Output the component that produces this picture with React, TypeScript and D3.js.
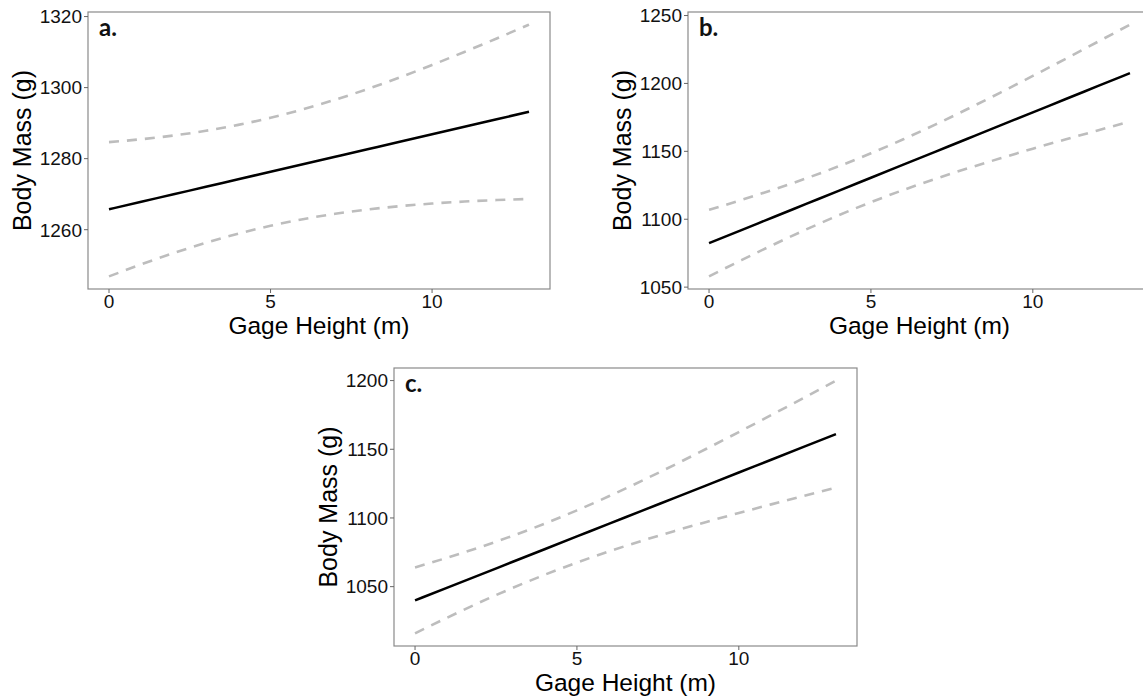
import React from "react";
import * as d3 from "d3";

// ---- Data ----
const gageHeight = [0, 1, 2, 3, 4, 5, 6, 7, 8, 9, 10, 11, 12, 13];

const fitA = [1265.75, 1267.86, 1269.97, 1272.08, 1274.2, 1276.31, 1278.42, 1280.53, 1282.64, 1284.75, 1286.87, 1288.98, 1291.09, 1293.2];
const upperA = [1284.65, 1285.47, 1286.52, 1287.85, 1289.51, 1291.51, 1293.88, 1296.59, 1299.6, 1302.88, 1306.38, 1310.04, 1313.83, 1317.74];
const lowerA = [1246.85, 1250.25, 1253.42, 1256.31, 1258.89, 1261.11, 1262.96, 1264.47, 1265.68, 1266.62, 1267.36, 1267.92, 1268.35, 1268.66];

const fitB = [1082.4, 1092.03, 1101.66, 1111.29, 1120.92, 1130.56, 1140.19, 1149.82, 1159.45, 1169.08, 1178.71, 1188.34, 1197.97, 1207.6];
const upperB = [1106.9, 1114.19, 1121.89, 1130.1, 1138.96, 1148.56, 1158.87, 1169.85, 1181.36, 1193.28, 1205.51, 1217.96, 1230.58, 1243.33];
const lowerB = [1057.9, 1069.87, 1081.43, 1092.48, 1102.88, 1112.56, 1121.51, 1129.79, 1137.54, 1144.88, 1151.91, 1158.72, 1165.36, 1171.87];

const fitC = [1040.0, 1049.31, 1058.62, 1067.92, 1077.23, 1086.54, 1095.85, 1105.15, 1114.46, 1123.77, 1133.08, 1142.38, 1151.69, 1161.0];
const upperC = [1064.0, 1071.11, 1078.7, 1086.91, 1095.84, 1105.54, 1115.96, 1126.99, 1138.51, 1150.39, 1162.53, 1174.87, 1187.36, 1199.96];
const lowerC = [1016.0, 1027.51, 1038.54, 1048.93, 1058.62, 1067.54, 1075.74, 1083.31, 1090.41, 1097.15, 1103.63, 1109.89, 1116.02, 1122.04];

const xTicks = [0, 5, 10];
const yTicksA = [1260, 1280, 1300, 1320];
const yTicksB = [1050, 1100, 1150, 1200, 1250];
const yTicksC = [1050, 1100, 1150, 1200];

const panelLabels = ["a.", "b.", "c."];
const xTitle = "Gage Height (m)";
const yTitle = "Body Mass (g)";

// ---- Layout ----
const layout = [
  { left: 88, top: 12, width: 462, height: 277 },
  { left: 688, top: 12, width: 463, height: 277 },
  { left: 394, top: 368, width: 463, height: 278 },
];

const panels = [
  { fit: fitA, upper: upperA, lower: lowerA, yTicks: yTicksA },
  { fit: fitB, upper: upperB, lower: lowerB, yTicks: yTicksB },
  { fit: fitC, upper: upperC, lower: lowerC, yTicks: yTicksC },
];

const tickFont = "'Liberation Sans', Arial, sans-serif";

function expand(ext: [number, number], f = 0.05): [number, number] {
  const r = ext[1] - ext[0];
  return [ext[0] - r * f, ext[1] + r * f];
}

function Panel({ idx }: { idx: number }) {
  const p = panels[idx];
  const L = layout[idx];
  const x = d3
    .scaleLinear()
    .domain(expand(d3.extent(gageHeight) as [number, number]))
    .range([L.left, L.left + L.width]);
  const allY = [...p.upper, ...p.lower, ...p.fit];
  const y = d3
    .scaleLinear()
    .domain(expand(d3.extent(allY) as [number, number]))
    .range([L.top + L.height, L.top]);

  const mk = (vals: number[]) =>
    d3
      .line<number>()
      .x((_, i) => x(gageHeight[i]))
      .y((v) => y(v))
      .curve(d3.curveMonotoneX)(vals) || "";

  const bottom = L.top + L.height;
  return (
    <g>
      <path d={mk(p.upper)} fill="none" stroke="#bdbdbd" strokeWidth={2.6} strokeDasharray="10 8" />
      <path d={mk(p.lower)} fill="none" stroke="#bdbdbd" strokeWidth={2.6} strokeDasharray="10 8" />
      <path d={mk(p.fit)} fill="none" stroke="#000" strokeWidth={2.5} />
      <rect x={L.left} y={L.top} width={L.width} height={L.height} fill="none" stroke="#8a8a8a" strokeWidth={1.2} />
      {xTicks.map((t) => (
        <g key={"x" + t}>
          <line x1={x(t)} x2={x(t)} y1={bottom} y2={bottom + 4} stroke="#666" strokeWidth={1} />
          <text x={x(t)} y={bottom + 18.5} textAnchor="middle" fontFamily={tickFont} fontSize={19} fill="#111">
            {t}
          </text>
        </g>
      ))}
      {p.yTicks.map((t) => (
        <g key={"y" + t}>
          <line x1={L.left - 4} x2={L.left} y1={y(t)} y2={y(t)} stroke="#666" strokeWidth={1} />
          <text x={L.left - 6} y={y(t)} dy="0.36em" textAnchor="end" fontFamily={tickFont} fontSize={19} fill="#111">
            {t}
          </text>
        </g>
      ))}
      <text
        x={L.left + L.width / 2}
        y={bottom + 45}
        textAnchor="middle"
        fontFamily={tickFont}
        fontSize={24.5}
        fill="#000"
      >
        {xTitle}
      </text>
      <text
        transform={`translate(${L.left - 57},${L.top + L.height / 2}) rotate(-90)`}
        textAnchor="middle"
        fontFamily={tickFont}
        fontSize={25}
        fill="#000"
      >
        {yTitle}
      </text>
      <text x={L.left + 11} y={L.top + 24} fontFamily="Lato, 'Open Sans', sans-serif" fontWeight={700} fontSize={24} fill="#111">
        {panelLabels[idx]}
      </text>
    </g>
  );
}

export default function App() {
  return (
    <svg
      width={1143}
      height={700}
      style={{ position: "absolute", left: 0, top: 0, background: "#fff" }}
    >
      <rect x={0} y={0} width={1143} height={700} fill="#fff" />
      {panels.map((_, i) => (
        <Panel key={i} idx={i} />
      ))}
    </svg>
  );
}
